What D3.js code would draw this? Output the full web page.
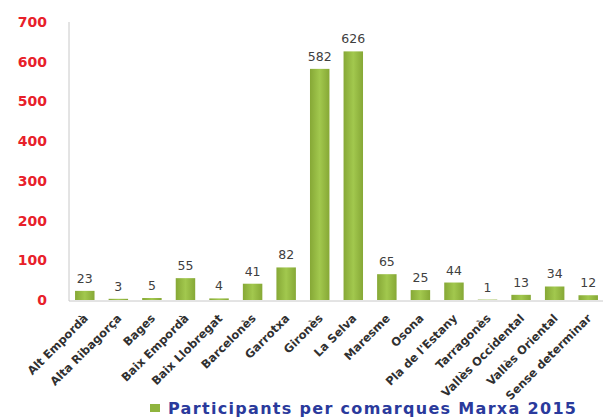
<!DOCTYPE html>
<html><head><meta charset="utf-8">
<script src="https://cdn.jsdelivr.net/npm/d3@7"></script>
<style>body{margin:0;background:#fff}</style>
</head><body>
<svg id="c" width="609" height="419"></svg>
<script>
const categories = ["Alt Empordà","Alta Ribagorça","Bages","Baix Empordà","Baix Llobregat","Barcelonès","Garrotxa","Gironès","La Selva","Maresme","Osona","Pla de l'Estany","Tarragonès","Vallès Occidental","Vallès Oriental","Sense determinar"];
const values = [23,3,5,55,4,41,82,582,626,65,25,44,1,13,34,12];
const yTicks = [0,100,200,300,400,500,600,700];
const seriesName = "Participants per comarques Marxa 2015";

const svg = d3.select("#c");
const defs = svg.append("defs");
const g = defs.append("linearGradient").attr("id","bg").attr("x1","0").attr("x2","1").attr("y1","0").attr("y2","0");
g.append("stop").attr("offset","0").attr("stop-color","#86a836");
g.append("stop").attr("offset","0.5").attr("stop-color","#a2c84e");
g.append("stop").attr("offset","1").attr("stop-color","#86a836");

const x = d3.scaleBand().domain(categories).range([68,605]).paddingInner(0.42).paddingOuter(0.21);
const y = d3.scaleLinear().domain([0,700]).range([300,22]);

svg.append("line").attr("x1",69).attr("x2",69).attr("y1",y(700)).attr("y2",y(0)+1).attr("stroke","#c8c8c8");
svg.append("line").attr("x1",69).attr("x2",603).attr("y1",y(0)+1).attr("y2",y(0)+1).attr("stroke","#c8c8c8");

const yAxis = svg.append("g").attr("transform","translate(69,0)")
  .call(d3.axisLeft(y).tickValues(yTicks).tickSize(0).tickPadding(22));
yAxis.select(".domain").remove();
yAxis.selectAll("text").attr("fill","#e8202a").attr("font-family","'DejaVu Sans', sans-serif")
  .attr("font-weight","bold").attr("font-size","14px");

svg.selectAll("rect.bar").data(values).enter().append("rect")
  .attr("class","bar")
  .attr("x",(d,i)=>x(categories[i]))
  .attr("width",x.bandwidth())
  .attr("y",d=>y(d))
  .attr("height",d=>y(0)-y(d))
  .attr("fill","url(#bg)");

svg.selectAll("text.val").data(values).enter().append("text")
  .attr("x",(d,i)=>x(categories[i])+x.bandwidth()/2)
  .attr("y",d=>y(d)-8)
  .attr("text-anchor","middle")
  .attr("font-family","'DejaVu Sans', sans-serif")
  .attr("font-size","12.5px").attr("fill","#404040")
  .text(d=>d);

const xAxis = svg.append("g").attr("transform",`translate(0,${y(0)+1})`)
  .call(d3.axisBottom(x).tickSize(0).tickPadding(0));
xAxis.select(".domain").remove();
xAxis.selectAll("text")
  .attr("text-anchor","end")
  .attr("font-family","'DejaVu Sans', sans-serif")
  .attr("font-weight","bold").attr("font-size","11.5px").attr("fill","#303030")
  .attr("dy","0").attr("y",0)
  .attr("transform","translate(4,18) rotate(-45)");

svg.append("rect").attr("x",150).attr("y",404).attr("width",10).attr("height",8).attr("fill","#8fb43e");
svg.append("text").attr("x",168).attr("y",414).attr("font-family","'DejaVu Sans', sans-serif")
  .attr("font-weight","bold").attr("font-size","16px").attr("fill","#2a3a9c")
  .attr("textLength",408).attr("lengthAdjust","spacing").text(seriesName);
</script>
</body></html>
